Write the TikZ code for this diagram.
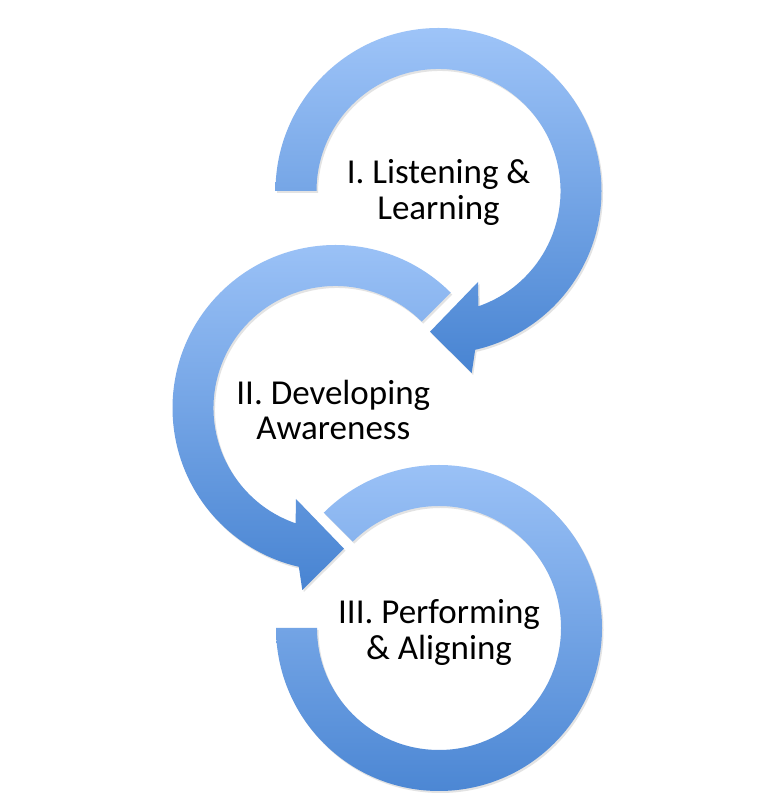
\documentclass[tikz,border=0pt]{standalone}
\usepackage{fontspec}
\setmainfont{Carlito}
\usetikzlibrary{shadows,calc}
\definecolor{ringtop}{RGB}{158,196,248}
\definecolor{ringbot}{RGB}{72,132,210}
\tikzset{
  ring/.style={top color=ringtop, bottom color=ringbot, draw=none,
    drop shadow={opacity=0.18, shadow xshift=1.5pt, shadow yshift=-2pt, fill=black!60}},
  lbl/.style={anchor=base, inner sep=0pt, font=\fontsize{35}{37}\selectfont, text=black}
}
\begin{document}
\begin{tikzpicture}[x=1pt,y=1pt]
\useasboundingbox[fill=white] (0,0) rectangle (771,800);
% ring 1 (top)
\coordinate (c1) at (438.5,609);
\shade[ring] (275.5,609) arc[start angle=180, end angle=-77, radius=163]
  -- (471.7,427) -- (430,468.3) -- (478,518)
  -- ($(c1)+(-70.9:122)$) arc[start angle=-70.9, end angle=180, radius=122] -- cycle;
% ring 2 (middle)
\coordinate (c2) at (335.5,392);
\shade[ring] ($(c2)+(45:163)$) arc[start angle=45, end angle=257, radius=163]
  -- (302.3,210) -- (344,251.3) -- (296,301)
  -- ($(c2)+(250.9:122)$) arc[start angle=250.9, end angle=45, radius=122] -- cycle;
% ring 3 (bottom)
\coordinate (c3) at (439,172);
\shade[ring] ($(c3)+(135:163)$) arc[start angle=135, end angle=-180, radius=163]
  -- ($(c3)+(180:122)$) arc[start angle=-180, end angle=135, radius=122] -- cycle;
% labels
\node[lbl] (t1a) at (438.6,616.7) {I. Listening \&};
\node[lbl] (t1b) at (438.5,580) {Learning};
\node[lbl] (t2a) at (333.3,395) {II. Developing};
\node[lbl] (t2b) at (333.3,360) {Awareness};
\node[lbl] (t3a) at (439,176) {III. Performing};
\node[lbl] (t3b) at (439,140) {\& Aligning};
\end{tikzpicture}
\end{document}
